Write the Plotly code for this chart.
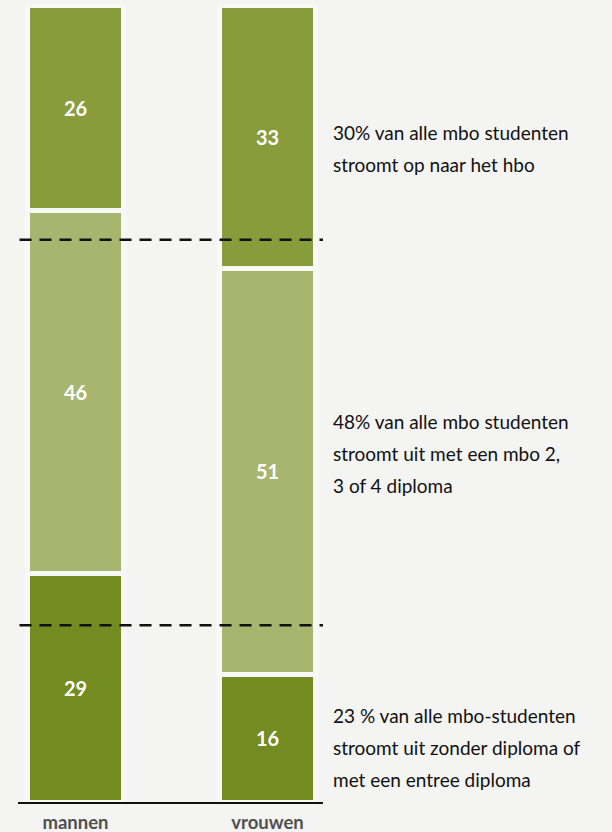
import plotly.graph_objects as go

categories = ["mannen", "vrouwen"]
zonder_diploma = [29, 16]
mbo_diploma = [46, 51]
hbo = [26, 33]
segment_names = ["zonder diploma / entree", "mbo 2, 3 of 4 diploma", "naar hbo"]
reference_lines = [22.2, 70.6]

notes = [
    ["30% van alle mbo studenten", "stroomt op naar het hbo"],
    ["48% van alle mbo studenten", "stroomt uit met een mbo 2,", "3 of 4 diploma"],
    ["23 % van alle mbo-studenten", "stroomt uit zonder diploma of", "met een entree diploma"],
]
note_centers = [0.8195, 0.4373, 0.0677]

colors = ["#738c21", "#a7b56e", "#889c3b"]
BG = "#f4f4f2"
GAP = "#f8f8f6"
FONT = "Lato"
PLOT_H = 798

fig = go.Figure()
for name, vals, col in zip(segment_names, [zonder_diploma, mbo_diploma, hbo], colors):
    fig.add_trace(go.Bar(
        x=[0, 1], y=vals, name=name, width=0.5,
        marker=dict(color=col, line=dict(color=GAP, width=5)),
        text=[str(v) for v in vals], textposition="inside",
        insidetextanchor="middle",
        textfont=dict(color="white", size=20, family=FONT, weight=700),
        hoverinfo="skip",
    ))

for yv in reference_lines:
    fig.add_shape(type="line", xref="x domain", yref="y", x0=0.005, x1=1, y0=yv, y1=yv,
                  line=dict(color="#111111", width=2.5, dash="12px,8px"), layer="above")

line_h = 32 / PLOT_H
for lines, c in zip(notes, note_centers):
    n = len(lines)
    for i, t in enumerate(lines):
        y = c + ((n - 1) / 2 - i) * line_h
        fig.add_annotation(text=t, xref="paper", yref="paper", x=1.026, y=y,
                           xanchor="left", yanchor="middle", showarrow=False,
                           font=dict(size=19, color="#111111", family=FONT))

fig.update_layout(
    width=612, height=832,
    margin=dict(l=18, r=289, t=4, b=30),
    paper_bgcolor=BG, plot_bgcolor=BG,
    barmode="stack", barnorm="percent",
    showlegend=False,
    xaxis=dict(range=[-0.2995, 1.289], tickvals=[0, 1], ticktext=categories,
               showline=True, linecolor="#111111", linewidth=2, ticks="",
               showgrid=False, zeroline=False, automargin=False,
               ticklabelstandoff=3,
               tickfont=dict(size=18.5, color="#505050", family=FONT, weight=700)),
    yaxis=dict(range=[0, 100.19], visible=False, showgrid=False, zeroline=False,
               automargin=False),
)

fig.write_html("out.html", config={"displayModeBar": False},
               post_script="document.body.style.margin='0';document.body.style.background='" + BG + "';")
